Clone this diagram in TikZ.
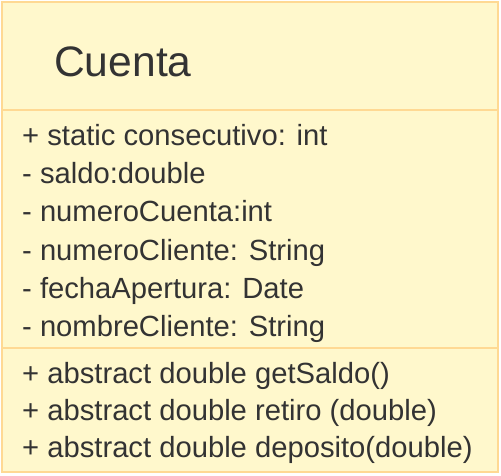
\documentclass[tikz,border=0pt]{standalone}
\usepackage{fontspec}
\setmainfont{Liberation Sans}
\usetikzlibrary{positioning}

\definecolor{classfill}{HTML}{FFF8CC}
\definecolor{classline}{HTML}{FFD993}
\definecolor{classtext}{HTML}{333333}

\begin{document}
\begin{tikzpicture}[x=1pt, y=1pt,
    member/.style={anchor=base west, inner sep=0pt, text=classtext,
      font=\fontsize{29.2}{35}\selectfont},
    classname/.style={anchor=base west, inner sep=0pt, text=classtext,
      font=\fontsize{42.6}{50}\selectfont}]
  \useasboundingbox (0,0) rectangle (501,-475);

  % class box with its compartments
  \draw[classline, fill=classfill, line width=2.5pt] (2,-2) rectangle (498,-472);
  \coordinate (headL) at (2,-110);
  \coordinate (headR) at (498,-110);
  \coordinate (sepL) at (2,-348);
  \coordinate (sepR) at (498,-348);
  \draw[classline, line width=2.5pt] (headL) -- (headR);
  \draw[classline, line width=2.5pt] (sepL) -- (sepR);

  % name
  \node[classname] (name) at (54,-76) {Cuenta};

  % attributes
  \node[member] (consec) at (22,-145) {+ static consecutivo: int};
  \node[member] (saldo) at (22,-183) {- saldo:double};
  \node[member] (numcta) at (22,-221) {- numeroCuenta:int};
  \node[member] (numcli) at (22,-260) {- numeroCliente: String};
  \node[member] (fecha) at (22,-298) {- fechaApertura: Date};
  \node[member] (nomcli) at (22,-336) {- nombreCliente: String};

  % operations
  \node[member] (getsaldo) at (22,-383) {+ abstract double getSaldo()};
  \node[member] (retiro) at (22,-420) {+ abstract double retiro (double)};
  \node[member] (deposito) at (22,-457) {+ abstract double deposito(double)};
\end{tikzpicture}
\end{document}
